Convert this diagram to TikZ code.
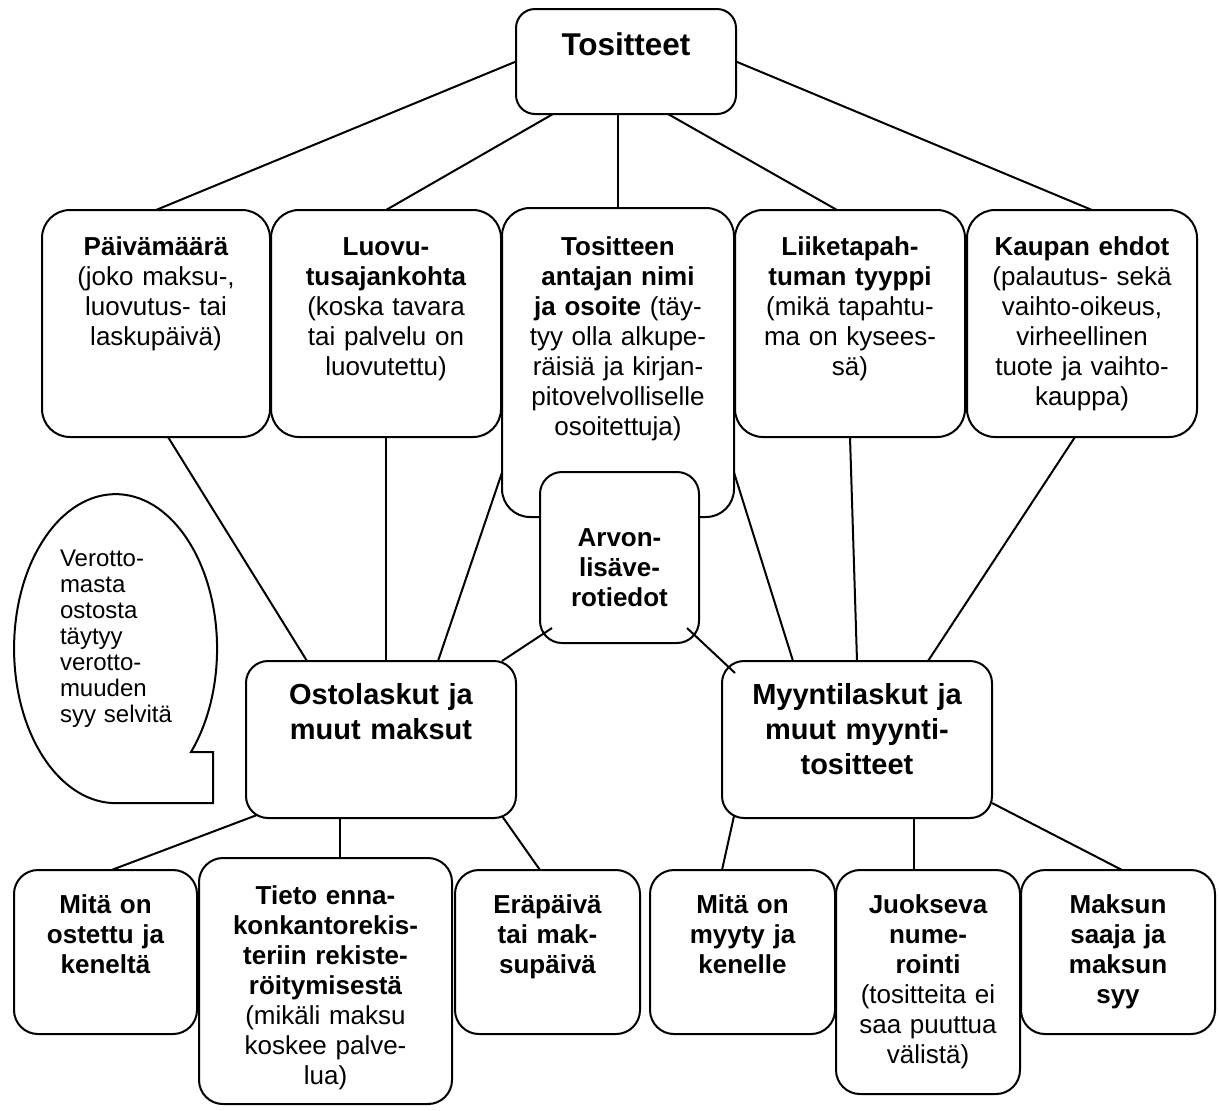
\documentclass[tikz,border=0pt]{standalone}
\usepackage{fontspec}
\setmainfont{Liberation Sans}
\usepackage{tikz}
\usetikzlibrary{positioning}
\tikzstyle{otsikko}=[
	rectangle,
	rounded corners=9.5pt,
	draw=black,
	fill=white,
	align=center,
	inner sep=0pt,
	outer sep=0pt,
	font=\fontsize{15.75}{18}\selectfont\bfseries]
\tikzstyle{laatikko}=[
	rectangle,
	rounded corners=14pt,
	draw=black,
	fill=white,
	align=center,
	inner sep=0pt,
	outer sep=0pt,
	font=\fontsize{13}{15}\selectfont]
\tikzstyle{keski}=[
	rectangle,
	rounded corners=11pt,
	draw=black,
	fill=white,
	align=center,
	inner sep=0pt,
	outer sep=0pt,
	font=\fontsize{14.5}{17.5}\selectfont\bfseries]
\tikzstyle{ala}=[
	rectangle,
	rounded corners=12pt,
	draw=black,
	fill=white,
	align=center,
	inner sep=0pt,
	outer sep=0pt,
	font=\fontsize{13}{15}\selectfont]
\tikzset{koko/.style n args={3}{text width=#1,text height=#2,text depth=#3}}
\begin{document}
\begin{tikzpicture}[x=0.5pt,y=-0.5pt,line width=1pt]
	\useasboundingbox (0,0) rectangle (1219,1110);
	% ylin
	\node[otsikko,koko={110pt}{23pt}{29.5pt},anchor=north] (tos) at (626,9) {Tositteet};
	% ensimmainen rivi
	\node[laatikko,koko={114pt}{22.5pt}{91pt},anchor=north west] (pvm) at (42,210)
		{{\bfseries Päivämäärä}\\(joko maksu-,\\luovutus- tai\\laskupäivä)};
	\node[laatikko,koko={115pt}{22.5pt}{91pt},anchor=north west] (luov) at ([xshift=0.5pt]pvm.north east)
		{{\bfseries Luovu-\\tusajankohta}\\(koska tavara\\tai palvelu on\\luovutettu)};
	\node[laatikko,koko={116pt}{23.5pt}{131pt},anchor=north west] (antaja) at ([xshift=0.5pt,yshift=1pt]luov.north east)
		{{\bfseries Tositteen\\antajan nimi\\ja osoite} (täy-\\tyy olla alkupe-\\räisiä ja kirjan-\\pitovelvolliselle\\osoitettuja)};
	\node[laatikko,koko={115pt}{22.5pt}{91pt},anchor=north west] (liike) at ([xshift=0.5pt,yshift=-1pt]antaja.north east)
		{{\bfseries Liiketapah-\\tuman tyyppi}\\(mikä tapahtu-\\ma on kysees-\\sä)};
	\node[laatikko,koko={115pt}{22.5pt}{91pt},anchor=north west] (ehdot) at ([xshift=1pt]liike.north east)
		{{\bfseries Kaupan ehdot}\\(palautus- sekä\\vaihto-oikeus,\\virheellinen\\tuote ja vaihto-\\kauppa)};
	% keskimmaiset
	\node[laatikko,rounded corners=11pt,font=\fontsize{13}{15}\selectfont\bfseries,koko={79.5pt}{37pt}{48.5pt},anchor=north west] (alv) at (540,472)
		{Arvon-\\lisäve-\\rotiedot};
	\node[keski,koko={135pt}{21.5pt}{57pt},anchor=north west] (osto) at (246,661)
		{Ostolaskut ja\\muut maksut};
	\node[keski,koko={135pt}{21.5pt}{57pt},anchor=north west] (myynti) at (722,661)
		{Myyntilaskut ja\\muut myynti-\\tositteet};
	% alin rivi
	\node[ala,font=\fontsize{13}{15}\selectfont\bfseries,koko={91.5pt}{21.5pt}{60.5pt},anchor=north west] (mita1) at (14,870)
		{Mitä on\\ostettu ja\\keneltä};
	\node[ala,koko={126.5pt}{23pt}{100pt},anchor=north west] (ennak) at ([xshift=1pt,yshift=6pt]mita1.north east)
		{{\bfseries Tieto enna-\\konkantorekis-\\teriin rekiste-\\röitymisestä}\\(mikäli maksu\\koskee palve-\\lua)};
	\node[ala,font=\fontsize{13}{15}\selectfont\bfseries,koko={92.5pt}{21.5pt}{60.5pt},anchor=north west] (era) at ([xshift=1.5pt,yshift=-6pt]ennak.north east)
		{Eräpäivä\\tai mak-\\supäivä};
	\node[ala,font=\fontsize{13}{15}\selectfont\bfseries,koko={92.5pt}{21.5pt}{60.5pt},anchor=north west] (mita2) at (650,870)
		{Mitä on\\myyty ja\\kenelle};
	\node[ala,koko={92pt}{21.5pt}{90.5pt},anchor=north west] (juoks) at ([xshift=0.5pt]mita2.north east)
		{{\bfseries Juokseva\\nume-\\rointi}\\(tositteita ei\\saa puuttua\\välistä)};
	\node[ala,font=\fontsize{13}{15}\selectfont\bfseries,koko={97pt}{21.5pt}{60.5pt},anchor=north west] (saaja) at ([xshift=0.5pt]juoks.north east)
		{Maksun\\saaja ja\\maksun\\syy};
	% puhekupla
	\draw[fill=white] (191,752) arc[start angle=42,end angle=-270,x radius=101.5,y radius=154.5]
		-- (213,803) -- (213,752) -- cycle;
	\node[align=left,inner sep=0pt,text width=80pt,text height=9pt,anchor=north west,
		font=\fontsize{12}{13}\selectfont] (puhe) at (59,547)
		{Verotto-\\masta\\ostosta\\täytyy\\verotto-\\muuden\\syy selvitä};
	% viivat ylhaalta
	\draw (tos.west) -- (pvm.north);
	\draw ([xshift=-36.5pt]tos.south) -- (luov.north);
	\draw (tos.south -| antaja.north) -- (antaja.north);
	\draw ([xshift=21pt]tos.south) -- ([xshift=-6.5pt]liike.north);
	\draw (tos.east) -- ([xshift=5pt]ehdot.north);
	% viivat keskelle
	\draw ([xshift=6pt]pvm.south) -- ([xshift=-37pt]osto.north);
	\draw (luov.south) -- (luov.south |- osto.north);
	\draw ([yshift=-55pt]antaja.west) -- ([xshift=28.5pt]osto.north);
	\draw ([yshift=-55pt]antaja.east) -- ([xshift=-32pt]myynti.north);
	\draw (liike.south) -- (myynti.north);
	\draw ([xshift=-3.5pt]ehdot.south) -- ([xshift=35.5pt]myynti.north);
	\draw ([xshift=6pt,yshift=7.5pt]alv.south west) -- ([xshift=-7pt]osto.north east);
	\draw ([xshift=-6pt,yshift=7.5pt]alv.south east) -- ([xshift=6.5pt,yshift=-6pt]myynti.north west);
	% viivat alas
	\draw ([xshift=-62pt,yshift=1.5pt]osto.south) -- ([xshift=3pt]mita1.north);
	\draw ([xshift=-20.5pt]osto.south) -- ([xshift=-20.5pt]osto.south |- ennak.north);
	\draw ([xshift=60.5pt,yshift=1pt]osto.south) -- ([xshift=-3.75pt]era.north);
	\draw ([xshift=-61.5pt,yshift=1pt]myynti.south) -- ([xshift=-10.25pt]mita2.north);
	\draw ([xshift=28.5pt]myynti.south) -- ([xshift=28.5pt]myynti.south |- juoks.north);
	\draw ([yshift=-31.75pt]myynti.east) -- ([xshift=2pt]saaja.north);
\end{tikzpicture}
\end{document}
